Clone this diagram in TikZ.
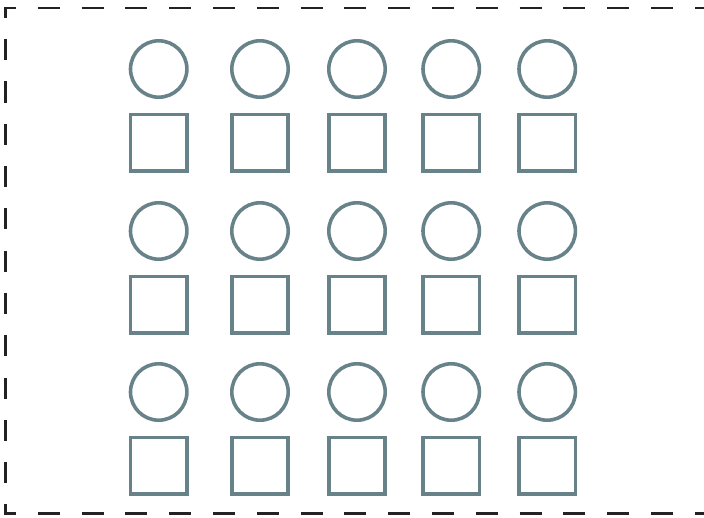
\documentclass[tikz,border=0pt]{standalone}
\definecolor{slate}{HTML}{68828A}
\definecolor{frame}{HTML}{222222}
\tikzset{
  circ/.style={circle, draw=slate, line width=3.6pt, minimum size=56.4pt, inner sep=0pt},
  sq/.style={rectangle, draw=slate, line width=3.6pt, minimum size=56.4pt, inner sep=0pt},
  hframe/.style={draw=frame, line width=2.7pt, dash pattern=on 21.9pt off 21.9pt, dash phase=9.9pt},
  vframe/.style={draw=frame, line width=2.7pt, dash pattern=on 21.15pt off 21.15pt, dash phase=9.85pt}
}
\begin{document}
\begin{tikzpicture}[x=1pt,y=-1pt]
\useasboundingbox (0,0) rectangle (704,517);
\coordinate (tl) at (5.3,8);
\coordinate (bl) at (5.3,513.7);
\draw[hframe] ([xshift=-1.35pt]tl) -- (730,8);
\draw[hframe] ([xshift=-1.35pt]bl) -- (730,513.7);
\draw[vframe] ([yshift=1.35pt]tl) -- ([yshift=-1.35pt]bl);
\foreach \c/\x in {1/158.7,2/260,3/357,4/451.2,5/547.2}{
  \foreach \r/\yc/\ys in {1/69/142.7,2/231/304.8,3/392/465.7}{
    \node[circ] (c\r\c) at (\x,\yc) {};
    \node[sq] (s\r\c) at (\x,\ys) {};
  }
}
\end{tikzpicture}
\end{document}
